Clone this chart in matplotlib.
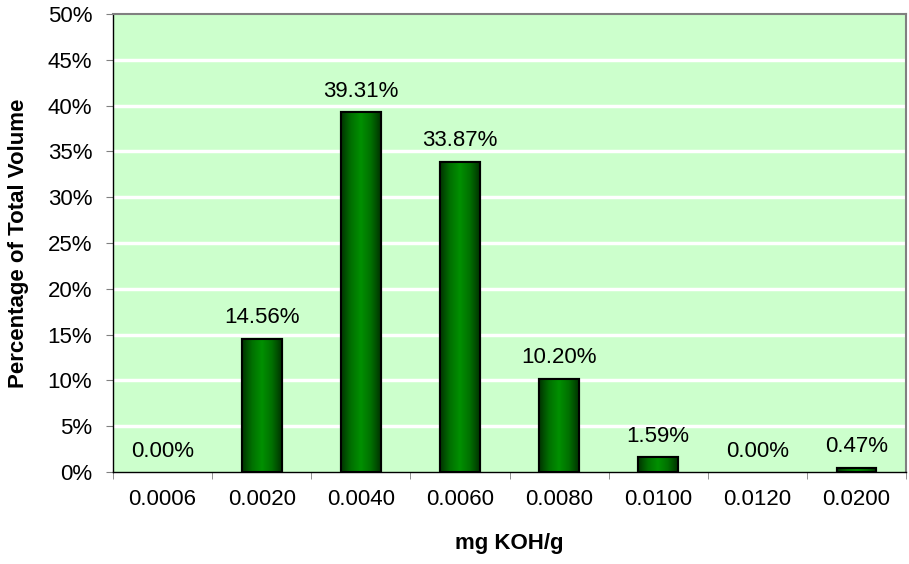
import matplotlib
matplotlib.use("Agg")
import matplotlib.pyplot as plt
import numpy as np
from matplotlib.colors import LinearSegmentedColormap

categories = ["0.0006", "0.0020", "0.0040", "0.0060", "0.0080", "0.0100", "0.0120", "0.0200"]
values = [0.00, 14.56, 39.31, 33.87, 10.20, 1.59, 0.00, 0.47]
yticks = [0, 5, 10, 15, 20, 25, 30, 35, 40, 45, 50]

plt.rcParams['font.family'] = ['Liberation Sans', 'DejaVu Sans']
FS = 16

fig = plt.figure(figsize=(9.09, 5.64), dpi=100)
ax = fig.add_axes([113/909, 92/564, (906-113)/909, (472-14)/564])
ax.set_facecolor('#CCFFCC')

x = np.arange(len(categories))
width = 0.4
ax.set_xlim(-0.5, len(categories) - 0.5)
ax.set_ylim(0, 50)

for yt in yticks[1:-1]:
    ax.axhline(yt, color='white', lw=2.5, zorder=1)

cmap = LinearSegmentedColormap.from_list('g', ['#003300', '#007000', '#009000', '#007000', '#003300'])
grad = np.linspace(0, 1, 256).reshape(1, -1)
bars = ax.bar(x, values, width=width, color='#008000', edgecolor='black', linewidth=1.5, zorder=3)
for b in bars:
    if b.get_height() <= 0:
        b.set_visible(False)
        continue
    im = ax.imshow(grad, cmap=cmap, aspect='auto', zorder=3.5,
                   extent=[b.get_x(), b.get_x() + b.get_width(), 0, b.get_height()])
    im.set_clip_path(b)
    ax.add_patch(plt.Rectangle((b.get_x(), 0), b.get_width(), b.get_height(),
                               fill=False, edgecolor='black', lw=1.5, zorder=4))

for xi, v in zip(x, values):
    ax.annotate(f"{v:.2f}%", (xi, v), xytext=(0, 11), textcoords='offset points',
                ha='center', va='baseline', fontsize=FS, zorder=5)

ax.set_xticks(x)
ax.set_xticklabels(categories, fontsize=FS)
ax.set_xticks(np.arange(len(categories) + 1) - 0.5, minor=True)
ax.tick_params(axis='x', which='major', length=0, pad=12)
ax.tick_params(axis='x', which='minor', length=5, color='#808080', direction='out')
ax.set_yticks(yticks)
ax.set_yticklabels([f"{t}%" for t in yticks], fontsize=FS)
ax.tick_params(axis='y', length=5, color='#808080', direction='out', pad=10)

for s in ['top', 'right']:
    ax.spines[s].set_color('#808080')
    ax.spines[s].set_linewidth(1.5)
for s in ['left', 'bottom']:
    ax.spines[s].set_color('black')
    ax.spines[s].set_linewidth(1.0)

ax.set_xlabel("mg KOH/g", fontsize=FS, fontweight='bold', va='top')
ax.xaxis.set_label_coords(0.5, -(533 - 472) / 458)
ax.set_ylabel("Percentage of Total Volume", fontsize=FS, fontweight='bold')
ax.yaxis.set_label_coords(-(113 - 29) / 793, 0.5)

fig.savefig("out.png", dpi=100)
